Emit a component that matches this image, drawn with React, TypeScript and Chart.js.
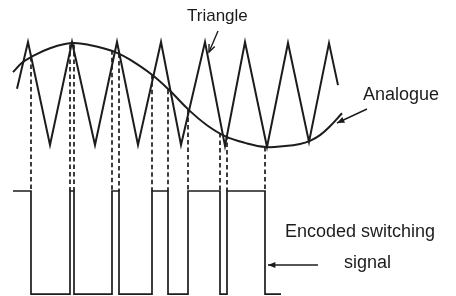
import React, { useEffect, useRef } from "react";
import { Chart, registerables } from "chart.js";

Chart.register(...registerables);

// Time axis (arbitrary units), amplitude axis for triangle/analogue (-1..1)
const triangleT = [17, 28, 50, 72, 95, 117, 138, 161, 181, 205, 225, 245, 267, 288, 309, 329, 338];
const triangleV = [0.1, 1, -0.98, 1, -0.98, 1, -0.98, 1, -0.98, 1, -1, 1, -1.02, 0.98, -0.92, 0.98, 0.17];

const analogueT = [13, 22, 31, 50, 72, 93, 105, 117, 130, 152, 169, 189, 207, 225, 245, 266, 285, 300, 310, 320, 330, 342];
const analogueV = [0.42, 0.6, 0.71, 0.88, 0.98, 0.93, 0.87, 0.79, 0.66, 0.37, 0.08, -0.31, -0.6, -0.81, -0.94, -1.02, -1.0, -0.96, -0.9, -0.79, -0.62, -0.37];

// Switching instants (where triangle crosses analogue) and level there
const switchT = [31, 70, 74, 112, 119, 152, 168, 188, 220, 227, 265];
const switchV = [0.71, 0.95, 0.95, 0.84, 0.78, 0.37, 0.08, -0.31, -0.75, -0.79, -1.02];
const pulseStartT = 13;
const pulseEndT = 281;
const pulseStartLevel = 1;

export default function App() {
  const ref = useRef<HTMLCanvasElement>(null);
  useEffect(() => {
    if (!ref.current) return;
    const tri = triangleT.map((t, i) => ({ x: t, y: triangleV[i] }));
    const ana = analogueT.map((t, i) => ({ x: t, y: analogueV[i] }));
    const pulse: { x: number; y: number }[] = [];
    let lvl = pulseStartLevel;
    pulse.push({ x: pulseStartT, y: lvl });
    switchT.forEach((t) => {
      pulse.push({ x: t, y: lvl });
      lvl = 1 - lvl;
      pulse.push({ x: t, y: lvl });
    });
    pulse.push({ x: pulseEndT, y: lvl });

    const ink = "#1c1c1c";

    const overlay = {
      id: "overlay",
      afterDatasetsDraw(chart: any) {
        const ctx = chart.ctx;
        const xs = chart.scales.x;
        const ys = chart.scales.y;
        const y2 = chart.scales.y2;
        ctx.save();
        // dashed projection lines
        ctx.strokeStyle = ink;
        ctx.lineWidth = 1.7;
        ctx.setLineDash([4.5, 3]);
        switchT.forEach((t, i) => {
          const px = xs.getPixelForValue(t);
          ctx.beginPath();
          ctx.moveTo(px, ys.getPixelForValue(switchV[i]));
          ctx.lineTo(px, y2.getPixelForValue(1));
          ctx.stroke();
        });
        ctx.setLineDash([]);

        // labels
        ctx.fillStyle = ink;
        ctx.textBaseline = "alphabetic";
        ctx.textAlign = "left";
        ctx.font = '17px "Liberation Sans", Arial, sans-serif';
        ctx.fillText("Triangle", 187, 21);
        ctx.font = '18px "Liberation Sans", Arial, sans-serif';
        ctx.fillText("Analogue", 363, 100);
        ctx.fillText("Encoded switching", 285, 237);
        ctx.fillText("signal", 344, 268);

        // arrows
        const arrow = (x1: number, y1: number, x2: number, y2p: number, filled: boolean) => {
          ctx.lineWidth = 1.4;
          ctx.beginPath();
          ctx.moveTo(x1, y1);
          ctx.lineTo(x2, y2p);
          ctx.stroke();
          const a = Math.atan2(y2p - y1, x2 - x1);
          const L = 8, w = 0.4;
          const p1 = [x2 - L * Math.cos(a - w), y2p - L * Math.sin(a - w)];
          const p2 = [x2 - L * Math.cos(a + w), y2p - L * Math.sin(a + w)];
          ctx.beginPath();
          ctx.moveTo(p1[0], p1[1]);
          ctx.lineTo(x2, y2p);
          ctx.lineTo(p2[0], p2[1]);
          if (filled) {
            ctx.closePath();
            ctx.fill();
          } else {
            ctx.stroke();
          }
        };
        arrow(218, 31, 209, 52, false);
        arrow(367, 109, 337, 123, true);
        arrow(318, 265, 268, 265, true);
        ctx.restore();
      },
    };

    const chart = new Chart(ref.current, {
      type: "line",
      data: {
        datasets: [
          {
            data: tri,
            borderColor: ink,
            borderWidth: 2,
            pointRadius: 0,
            tension: 0,
            yAxisID: "y",
          },
          {
            data: ana,
            borderColor: ink,
            borderWidth: 2,
            pointRadius: 0,
            tension: 0.4,
            yAxisID: "y",
          },
          {
            data: pulse,
            borderColor: ink,
            borderWidth: 1.7,
            pointRadius: 0,
            tension: 0,
            yAxisID: "y2",
          },
        ],
      },
      options: {
        animation: false,
        responsive: false,
        layout: { padding: 0 },
        plugins: { legend: { display: false }, tooltip: { enabled: false } },
        scales: {
          x: { type: "linear", min: 0, max: 456, display: false },
          y: { type: "linear", min: -3.885, max: 1.808, display: false },
          y2: { type: "linear", min: -0.019, max: 2.854, display: false },
        },
      },
      plugins: [overlay],
    });
    return () => chart.destroy();
  }, []);
  return (
    <div style={{ position: "absolute", left: 0, top: 0, width: 456, height: 296, background: "#fff" }}>
      <canvas ref={ref} width={456} height={296} />
    </div>
  );
}
